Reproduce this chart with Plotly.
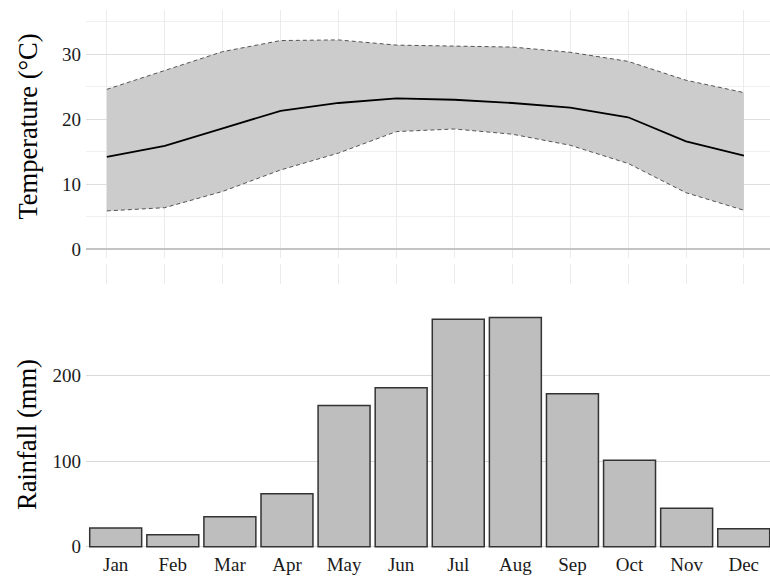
import plotly.graph_objects as go

# monthly climate data
months = ["Jan", "Feb", "Mar", "Apr", "May", "Jun", "Jul", "Aug", "Sep", "Oct", "Nov", "Dec"]
month_num = [1, 2, 3, 4, 5, 6, 7, 8, 9, 10, 11, 12]
temp_mean = [14.2, 15.9, 18.6, 21.3, 22.5, 23.2, 23.0, 22.5, 21.8, 20.3, 16.6, 14.4]
temp_max = [24.6, 27.5, 30.4, 32.1, 32.2, 31.4, 31.2, 31.1, 30.3, 28.9, 26.0, 24.1]
temp_min = [5.9, 6.4, 8.9, 12.2, 14.8, 18.1, 18.5, 17.7, 16.0, 13.2, 8.7, 6.0]
rainfall = [22, 14, 35, 62, 165, 186, 266, 268, 179, 101, 45, 21]

W, H = 770, 576
ML = 86


def py(px):
    # pixel row (from top) -> paper y
    return (H - px) / H


SERIF = "Liberation Serif, Times New Roman, serif"
TICK_FONT = dict(family=SERIF, size=19, color="#1a1a1a")

fig = go.Figure()

##Top panel: temperature band
fig.add_trace(go.Scatter(x=month_num, y=temp_min, mode="lines",
                         line=dict(color="#555555", width=1, dash="4px,3px"),
                         xaxis="x", yaxis="y", showlegend=False))
fig.add_trace(go.Scatter(x=month_num, y=temp_max, mode="lines", fill="tonexty",
                         fillcolor="#cccccc",
                         line=dict(color="#555555", width=1, dash="4px,3px"),
                         xaxis="x", yaxis="y", showlegend=False))
fig.add_trace(go.Scatter(x=month_num, y=temp_mean, mode="lines",
                         line=dict(color="#000000", width=1.8),
                         xaxis="x", yaxis="y", showlegend=False))

##Bottom panel: rainfall bars
fig.add_trace(go.Bar(x=months, y=rainfall, marker=dict(color="#bebebe",
                     line=dict(color="#333333", width=1.5)),
                     xaxis="x2", yaxis="y2", showlegend=False))

fig.update_layout(
    width=W, height=H,
    margin=dict(l=ML, r=0, t=0, b=0),
    paper_bgcolor="white", plot_bgcolor="white",
    bargap=0.09,
    xaxis=dict(domain=[0, 1], range=[0.64, 12.45], tickvals=month_num,
               showticklabels=False, showgrid=True, gridcolor="#ebebeb", gridwidth=1,
               ticks="outside", ticklen=20, tickcolor="#ebebeb", tickwidth=1,
               anchor="free", position=py(263), zeroline=False, showline=False,
               automargin=False),
    yaxis=dict(domain=[py(258), py(10)], range=[-1.34, 36.8],
               tickvals=[0, 10, 20, 30], tickfont=TICK_FONT,
               showgrid=True, gridcolor="#dedede", gridwidth=1.3,
               minor=dict(dtick=5, tick0=0, showgrid=True, gridcolor="#efefef", gridwidth=1),
               zeroline=True, zerolinecolor="#c4c4c4", zerolinewidth=2,
               ticks="", ticklabelstandoff=4, automargin=False),
    xaxis2=dict(domain=[0, 1], range=[-0.52, 11.46], anchor="y2",
                tickfont=TICK_FONT, showgrid=False, ticks="", zeroline=False,
                showline=False, automargin=False, ticklabelstandoff=0),
    yaxis2=dict(domain=[py(551), py(300)], range=[-5.0, 288.5], anchor="x2",
                tickvals=[0, 100, 200], tickfont=TICK_FONT,
                showgrid=True, gridcolor="#d9d9d9", gridwidth=1.3,
                zeroline=False, ticks="", ticklabelstandoff=4, automargin=False),
    annotations=[
        dict(text="Temperature (°C)", xref="paper", yref="paper",
             x=(27 - ML) / (W - ML), y=py(126.5), textangle=-90,
             showarrow=False, xanchor="center", yanchor="middle",
             font=dict(family=SERIF, size=26.5, color="#000000")),
        dict(text="Rainfall (mm)", xref="paper", yref="paper",
             x=(27 - ML) / (W - ML), y=py(435), textangle=-90,
             showarrow=False, xanchor="center", yanchor="middle",
             font=dict(family=SERIF, size=26.5, color="#000000")),
    ],
)

# drop the default page margin so the figure sits at the window's corner
fig.write_html("out.html", config={"displayModeBar": False},
               post_script="document.body.style.margin='0';")
